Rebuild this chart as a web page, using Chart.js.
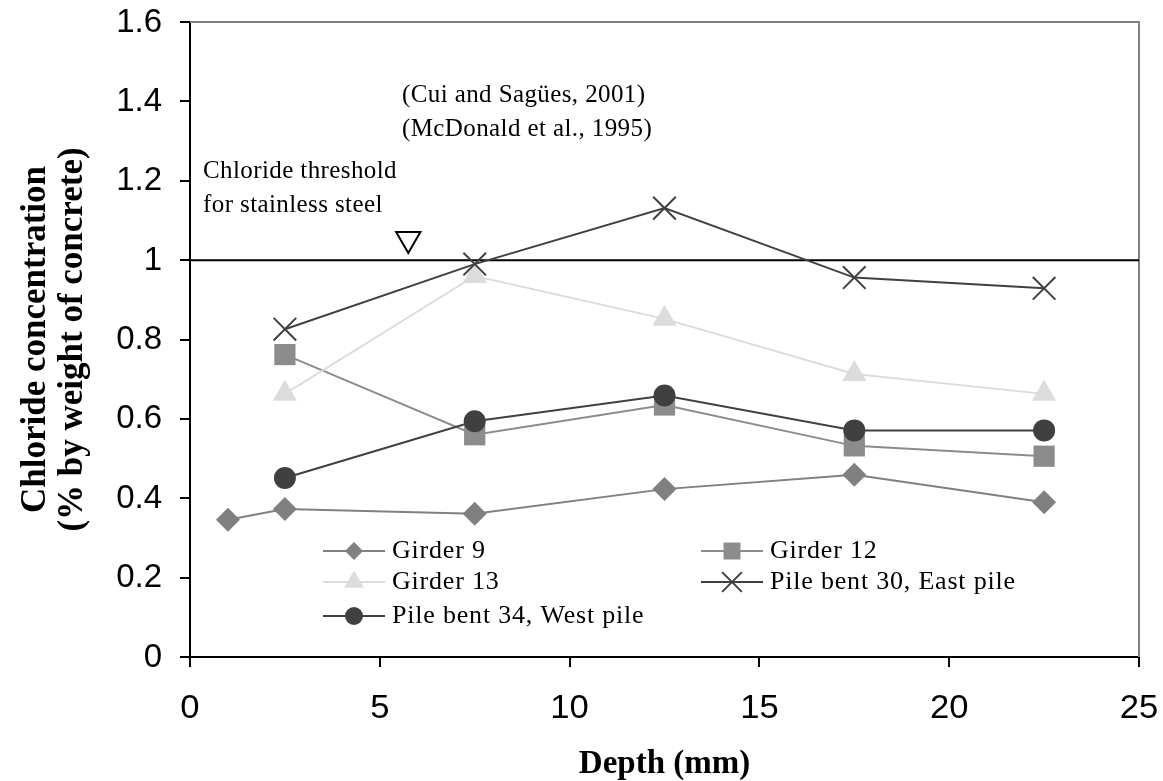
<!DOCTYPE html>
<html><head><meta charset="utf-8">
<script src="https://cdn.jsdelivr.net/npm/chart.js@4/dist/chart.umd.min.js"></script>
<style>html,body{margin:0;padding:0;background:#fff;overflow:hidden}</style>
</head><body>
<canvas id="c" width="1163" height="781"></canvas>
<script>
// ---- data ----
const depthsGirder9 = [1, 2.5, 7.5, 12.5, 17.5, 22.5];
const girder9 = [0.346, 0.373, 0.361, 0.423, 0.459, 0.39];
const depths = [2.5, 7.5, 12.5, 17.5, 22.5];
const girder12 = [0.762, 0.56, 0.635, 0.532, 0.506];
const girder13 = [0.663, 0.96, 0.852, 0.713, 0.663];
const pileBent30East = [0.826, 0.99, 1.131, 0.956, 0.929];
const pileBent34West = [0.451, 0.594, 0.659, 0.571, 0.571];
const thresholdValue = 1.0;
const thresholdMarkerX = [5.75];
const thresholdMarkerY = [1.053];
const xTickLabels = ['0', '5', '10', '15', '20', '25'];
const yTickLabels = ['0', '0.2', '0.4', '0.6', '0.8', '1', '1.2', '1.4', '1.6'];
const seriesNames = ['Girder 9', 'Girder 12', 'Girder 13', 'Pile bent 30, East pile', 'Pile bent 34, West pile'];
const referenceNotes = ['(Cui and Sagües, 2001)', '(McDonald et al., 1995)'];
const thresholdNotes = ['Chloride threshold', 'for stainless steel'];
const xTitle = 'Depth (mm)';
const yTitle = ['Chloride concentration', '(% by weight of concrete)'];

const pts = (xs, ys) => xs.map((x, i) => ({x: x, y: ys[i]}));

const SERIF = '"Liberation Serif", "Times New Roman", serif';
const SANS = '"Liberation Sans", Arial, sans-serif';

const styles = [
  {color: '#808080', style: 'rectRot', r: 12, lr: 9},
  {color: '#8c8c8c', style: 'rect', r: 15, lr: 12},
  {color: '#dcdcdc', style: 'triangle', r: 14, lr: 11.5},
  {color: '#404040', style: 'crossRot', r: 16, lr: 14},
  {color: '#404040', style: 'circle', r: 11, lr: 9}
];
const seriesData = [
  pts(depthsGirder9, girder9),
  pts(depths, girder12),
  pts(depths, girder13),
  pts(depths, pileBent30East),
  pts(depths, pileBent34West)
];
const drawOrder = [4, 3, 2, 0, 1];

const datasets = seriesData.map((d, i) => ({
  label: seriesNames[i],
  data: d,
  showLine: true,
  borderColor: styles[i].color,
  backgroundColor: styles[i].color,
  borderWidth: 2,
  pointStyle: styles[i].style,
  pointRadius: styles[i].r,
  pointBorderWidth: styles[i].style === 'crossRot' ? 2 : 0,
  pointBorderColor: styles[i].color,
  pointBackgroundColor: styles[i].color,
  order: drawOrder[i] + 1
}));
datasets.push({
  label: 'threshold',
  data: [{x: 0, y: thresholdValue}, {x: 25, y: thresholdValue}],
  showLine: true, borderColor: '#000', borderWidth: 2, pointRadius: 0, order: 20
});
datasets.push({
  label: 'marker',
  data: pts(thresholdMarkerX, thresholdMarkerY),
  pointStyle: 'triangle', rotation: 180, pointRadius: 14,
  pointBackgroundColor: '#fff', pointBorderColor: '#000', pointBorderWidth: 2, order: 0
});

function drawMarker(ctx, style, x, y, r, color) {
  ctx.save();
  ctx.fillStyle = color; ctx.strokeStyle = color; ctx.lineWidth = 2;
  ctx.beginPath();
  if (style === 'rectRot') {
    ctx.moveTo(x, y - r); ctx.lineTo(x + r, y); ctx.lineTo(x, y + r); ctx.lineTo(x - r, y); ctx.closePath(); ctx.fill();
  } else if (style === 'rect') {
    const s = r * Math.SQRT1_2; ctx.rect(x - s, y - s, 2 * s, 2 * s); ctx.fill();
  } else if (style === 'triangle') {
    ctx.moveTo(x, y - r);
    ctx.lineTo(x + r * Math.sin(2 * Math.PI / 3), y - r * Math.cos(2 * Math.PI / 3));
    ctx.lineTo(x + r * Math.sin(4 * Math.PI / 3), y - r * Math.cos(4 * Math.PI / 3));
    ctx.closePath(); ctx.fill();
  } else if (style === 'crossRot') {
    const s = r * Math.SQRT1_2;
    ctx.moveTo(x - s, y - s); ctx.lineTo(x + s, y + s); ctx.moveTo(x - s, y + s); ctx.lineTo(x + s, y - s); ctx.stroke();
  } else {
    ctx.arc(x, y, r, 0, Math.PI * 2); ctx.fill();
  }
  ctx.restore();
}

function wideText(ctx, text, x, y, align, sx) {
  ctx.save();
  ctx.translate(x, y);
  ctx.scale(sx, 1);
  ctx.textAlign = align;
  ctx.fillText(text, 0, 0);
  ctx.restore();
}

const decor = {
  id: 'decor',
  beforeDatasetsDraw(chart) {
    const {ctx, chartArea: a} = chart;
    ctx.save();
    ctx.strokeStyle = '#808080'; ctx.lineWidth = 2;
    ctx.beginPath(); ctx.moveTo(a.left, a.top); ctx.lineTo(a.right, a.top); ctx.lineTo(a.right, a.bottom); ctx.stroke();
    ctx.restore();
  },
  afterDraw(chart) {
    const {ctx, chartArea: a, scales} = chart;
    ctx.save();
    ctx.fillStyle = '#000';
    ctx.textBaseline = 'middle';

    // tick labels, positioned by the library scales
    ctx.font = '33px ' + SANS;
    scales.x.ticks.forEach((t, i) => {
      wideText(ctx, xTickLabels[i], scales.x.getPixelForValue(t.value), 709, 'center', 1.05);
    });
    scales.y.ticks.forEach((t, i) => {
      wideText(ctx, yTickLabels[i], 162, scales.y.getPixelForValue(t.value) + 0.5, 'right', 1.0);
    });

    ctx.textAlign = 'left';
    ctx.font = '25px ' + SERIF;
    ctx.letterSpacing = '0.4px';
    ctx.fillText(referenceNotes[0], 402, 95);
    ctx.fillText(referenceNotes[1], 402, 129);
    ctx.fillText(thresholdNotes[0], 203, 171);
    ctx.fillText(thresholdNotes[1], 203, 205);

    // legend
    const cols = [323, 701];
    const rows = [551, 582, 616];
    ctx.font = '26px ' + SERIF;
    ctx.letterSpacing = '0.8px';
    seriesNames.forEach((name, i) => {
      const cx = cols[i % 2], cy = rows[Math.floor(i / 2)];
      ctx.strokeStyle = styles[i].color; ctx.lineWidth = 2;
      ctx.beginPath(); ctx.moveTo(cx, cy); ctx.lineTo(cx + 62, cy); ctx.stroke();
      drawMarker(ctx, styles[i].style, cx + 31, cy, styles[i].lr, styles[i].color);
      ctx.fillStyle = '#000';
      ctx.fillText(name, cx + 69, cy);
    });
    ctx.letterSpacing = '0px';

    // x title
    ctx.font = 'bold 33px ' + SERIF;
    ctx.textAlign = 'center';
    ctx.fillText(xTitle, (a.left + a.right) / 2, 764);

    // y title
    ctx.translate(0, (a.top + a.bottom) / 2);
    ctx.rotate(-Math.PI / 2);
    ctx.font = 'bold 35px ' + SERIF;
    ctx.fillText(yTitle[0], 0, 36);
    ctx.fillText(yTitle[1], 0, 73);
    ctx.restore();
  }
};

new Chart(document.getElementById('c'), {
  type: 'scatter',
  data: {datasets: datasets},
  options: {
    responsive: false,
    animation: false,
    layout: {padding: {top: 22, right: 24, left: 0, bottom: 0}},
    plugins: {legend: {display: false}, tooltip: {enabled: false}},
    scales: {
      x: {
        type: 'linear', min: 0, max: 25,
        afterFit(s) { s.height = 124; s.paddingLeft = 0; s.paddingRight = 0; },
        ticks: {stepSize: 5, display: false},
        grid: {drawOnChartArea: false, tickLength: 10, color: '#000', lineWidth: 2},
        border: {color: '#000', width: 2}
      },
      y: {
        type: 'linear', min: 0, max: 1.6,
        afterFit(s) { s.width = 190; s.paddingTop = 0; s.paddingBottom = 0; },
        ticks: {stepSize: 0.2, display: false},
        grid: {drawOnChartArea: false, tickLength: 10, color: '#000', lineWidth: 2},
        border: {color: '#000', width: 2}
      }
    }
  },
  plugins: [decor]
});
</script>
</body></html>
